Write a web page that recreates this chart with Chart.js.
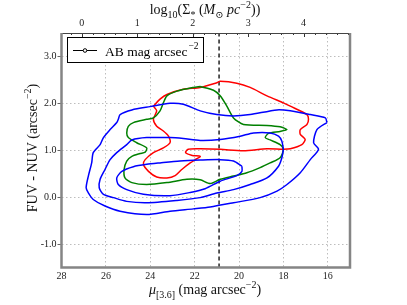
<!DOCTYPE html>
<html><head><meta charset="utf-8">
<script src="https://cdn.jsdelivr.net/npm/chart.js@4.4.0/dist/chart.umd.min.js"></script>
<style>html,body{margin:0;padding:0;background:#fff;overflow:hidden}#wrap{width:407px;height:305px}</style>
</head><body><div id="wrap"><canvas id="c" width="407" height="305"></canvas></div>
<script>
// ---- data ----
const muRange = [28, 15];            // surface brightness axis (reversed)
const colorRange = [-1.5, 3.5];      // FUV - NUV axis
const xTicks = [28, 26, 24, 22, 20, 18, 16];
const yTicks = [-1.0, 0.0, 1.0, 2.0, 3.0];
const topTicks = [0, 1, 2, 3, 4];
const muZero = 27.09;                // mu where log10(Sigma*) = 0
const magPerDex = 2.5;
const cutMu = 20.9;                  // vertical dashed threshold

const blueOuterMu = [16.04,16.11,16.79,17.69,18.29,19.50,20.25,21.00,21.75,22.51,23.11,24.01,24.83,25.36,25.44,25.51,25.81,26.11,26.26,26.57,26.64,26.79,26.89,26.79,26.57,26.04,25.36,24.16,23.11,22.06,21.30,20.25,19.05,18.29,17.84,17.24,16.79,16.42,16.64,16.49,16.04];
const blueOuterCol = [1.59,1.69,1.76,1.84,1.86,1.76,1.73,1.76,1.84,1.98,2.00,1.93,1.86,1.76,1.66,1.59,1.44,1.27,1.12,0.95,0.73,0.45,0.20,0.09,-0.05,-0.19,-0.30,-0.37,-0.30,-0.25,-0.21,-0.12,-0.01,0.13,0.27,0.52,0.80,1.02,1.16,1.44,1.59];

const blueMidMu = [18.00,18.07,18.22,18.60,19.35,19.95,20.85,21.75,22.51,23.11,24.16,24.83,25.06,25.51,25.81,26.04,26.26,26.30,26.11,25.66,25.06,24.16,22.80,21.75,21.00,20.25,19.50,18.74,18.22,18.07,18.00];
const blueMidCol = [1.02,1.19,1.30,1.37,1.37,1.30,1.23,1.21,1.25,1.27,1.27,1.22,1.12,0.95,0.80,0.59,0.38,0.20,0.06,-0.01,-0.09,-0.12,-0.07,-0.01,0.09,0.16,0.27,0.41,0.66,0.84,1.02];

const blueInMu = [19.87,20.25,20.85,21.75,22.66,23.56,24.16,24.76,25.28,25.51,25.44,25.06,24.31,23.11,22.20,21.53,20.85,20.10,19.87,19.87];
const blueInCol = [0.66,0.77,0.80,0.79,0.77,0.73,0.70,0.65,0.55,0.41,0.27,0.16,0.06,0.03,0.10,0.18,0.34,0.46,0.55,0.66];

const greenMu = [21.75,21.15,20.85,20.55,20.25,19.80,18.74,18.15,17.84,18.15,18.67,18.82,18.60,18.15,18.00,18.15,18.60,19.05,19.65,20.25,20.85,21.30,21.75,22.35,23.25,24.16,24.83,25.14,25.18,25.06,24.83,24.46,24.23,24.16,24.61,24.99,25.06,24.99,24.76,24.16,23.86,23.56,23.41,23.25,22.80,22.06,21.75];
const greenCol = [2.36,2.28,2.16,1.94,1.69,1.55,1.53,1.50,1.44,1.40,1.36,1.27,1.22,1.12,1.02,0.84,0.73,0.63,0.52,0.45,0.38,0.29,0.37,0.38,0.31,0.27,0.31,0.41,0.59,0.77,0.87,0.93,0.96,1.05,1.16,1.27,1.37,1.51,1.59,1.66,1.69,1.84,2.01,2.16,2.26,2.34,2.36];

const redMu = [23.86,23.56,23.25,22.51,21.75,21.00,20.85,20.10,19.50,18.74,18.00,17.69,16.94,16.87,16.94,17.24,17.24,17.02,17.17,17.69,18.00,18.74,19.80,20.85,21.75,22.29,22.41,22.11,21.75,21.90,22.20,22.58,22.88,23.25,23.71,24.08,24.31,24.23,23.86,23.41,23.11,23.18,23.41,23.71,23.86,23.71,23.86];
const redCol = [1.94,2.09,2.19,2.30,2.34,2.44,2.47,2.43,2.34,2.16,2.01,1.94,1.76,1.66,1.55,1.44,1.34,1.23,1.12,1.03,1.02,1.03,0.99,1.02,1.03,1.02,0.95,0.89,0.87,0.82,0.73,0.59,0.46,0.41,0.43,0.55,0.70,0.80,0.95,1.05,1.16,1.30,1.41,1.51,1.66,1.84,1.94];

const legendLabel = "AB mag arcsec";
// ---- end data ----

const SERIF = "'Liberation Serif','DejaVu Serif',serif";
const pts = (xs, ys) => xs.map((x, i) => ({x: x, y: ys[i]}));
function contour(xs, ys, color) {
  return {data: pts(xs, ys), borderColor: color, borderWidth: 1.5, showLine: true,
          pointRadius: 0, tension: 0.25, fill: false};
}

function fontFor(p, base) {
  const small = (p.k === 'sub' || p.k === 'sup');
  const size = small ? Math.round(base * 0.7) : base;
  return (p.i ? 'italic ' : '') + size + 'px ' + SERIF;
}
function drawRich(ctx, parts, cx, cy, base) {
  let w = 0;
  parts.forEach(p => { ctx.font = fontFor(p, base); w += ctx.measureText(p.t).width; });
  let x = cx - w / 2;
  ctx.textAlign = 'left'; ctx.textBaseline = 'alphabetic';
  parts.forEach(p => {
    ctx.font = fontFor(p, base);
    const off = p.k === 'sub' ? base * 0.3 : (p.k === 'sup' ? -base * 0.4 : 0);
    ctx.fillText(p.t, x, cy + off);
    x += ctx.measureText(p.t).width;
  });
}

const decor = {
  id: 'decor',
  afterDatasetsDraw(chart) {
    const ctx = chart.ctx, a = chart.chartArea;
    const sx2 = chart.scales.x2, sy = chart.scales.y;
    ctx.save();
    // top minor/major ticks (inward)
    ctx.strokeStyle = '#333'; ctx.lineWidth = 1;
    for (let k = -2; k <= 49; k++) {
      const v = k / 10;
      if (k % 2 !== 0) continue;
      const px = sx2.getPixelForValue(v);
      if (px < a.left + 1 || px > a.right - 1) continue;
      const len = (k % 10 === 0) ? 4 : 2;
      ctx.beginPath(); ctx.moveTo(Math.round(px) + 0.5, a.top); ctx.lineTo(Math.round(px) + 0.5, a.top + len); ctx.stroke();
    }
    // left outward ticks
    ctx.strokeStyle = '#666';
    yTicks.forEach(v => {
      const py = Math.round(sy.getPixelForValue(v)) + 0.5;
      ctx.beginPath(); ctx.moveTo(a.left - 4, py); ctx.lineTo(a.left, py); ctx.stroke();
    });
    // frame
    ctx.strokeStyle = '#444'; ctx.lineWidth = 1;
    ctx.beginPath(); ctx.moveTo(a.left, a.top + 0.5); ctx.lineTo(a.right, a.top + 0.5); ctx.stroke();
    ctx.strokeStyle = '#858585'; ctx.lineWidth = 2.5;
    ctx.beginPath();
    ctx.moveTo(a.left, a.top); ctx.lineTo(a.left, a.bottom); ctx.lineTo(a.right, a.bottom); ctx.lineTo(a.right, a.top);
    ctx.stroke();
    // legend
    ctx.strokeStyle = '#000'; ctx.lineWidth = 1; ctx.fillStyle = '#fff';
    ctx.fillRect(67.5, 37.5, 136, 25);
    ctx.strokeRect(67.5, 37.5, 136, 25);
    ctx.beginPath(); ctx.moveTo(73, 50.5); ctx.lineTo(97, 50.5); ctx.stroke();
    ctx.beginPath(); ctx.arc(85, 50.5, 1.8, 0, Math.PI * 2); ctx.fill(); ctx.stroke();
    ctx.fillStyle = '#000';
    ctx.font = '13.5px ' + SERIF; ctx.textAlign = 'left'; ctx.textBaseline = 'alphabetic';
    ctx.fillText(legendLabel, 105, 56);
    const lw = ctx.measureText(legendLabel).width;
    ctx.font = '9.5px ' + SERIF; ctx.fillText('\u22122', 105 + lw + 1, 49);
    // axis titles
    ctx.fillStyle = '#111';
    drawRich(ctx, [{t: '\u03bc', i: true}, {t: '[3.6]', k: 'sub'}, {t: ' (mag arcsec'}, {t: '\u22122', k: 'sup'}, {t: ')'}], 205, 294, 14);
    drawRich(ctx, [{t: 'log'}, {t: '10', k: 'sub'}, {t: '(\u03a3'}, {t: '*', k: 'sub'}, {t: ' ('}, {t: 'M', i: true}, {t: '\u2299', k: 'sub'}, {t: ' '}, {t: 'pc', i: true}, {t: '\u22122', k: 'sup'}, {t: '))'}], 205, 14, 14);
    ctx.save();
    ctx.translate(37, 148); ctx.rotate(-Math.PI / 2);
    drawRich(ctx, [{t: 'FUV - NUV (arcsec'}, {t: '\u22122', k: 'sup'}, {t: ')'}], 0, 0, 14);
    ctx.restore();
    ctx.restore();
  }
};

const tickFont = {family: SERIF, size: 10};
new Chart(document.getElementById('c'), {
  type: 'scatter',
  data: {datasets: [
    contour(blueOuterMu, blueOuterCol, '#0000ff'),
    contour(blueMidMu, blueMidCol, '#0000ff'),
    contour(blueInMu, blueInCol, '#0000ff'),
    contour(greenMu, greenCol, '#008000'),
    contour(redMu, redCol, '#ff0000'),
    {data: [{x: cutMu, y: colorRange[0]}, {x: cutMu, y: colorRange[1]}], borderColor: '#222', borderWidth: 1.5,
     borderDash: [4, 3], showLine: true, pointRadius: 0}
  ]},
  options: {
    responsive: false, animation: false, devicePixelRatio: 1,
    layout: {padding: {left: 0, right: 57, top: 0, bottom: 0}},
    plugins: {legend: {display: false}, tooltip: {enabled: false}},
    scales: {
      x: {type: 'linear', position: 'bottom', min: muRange[1], max: muRange[0], reverse: true,
          afterBuildTicks: s => { s.ticks = xTicks.map(v => ({value: v})); },
          afterFit: s => { s.height = 37.5; },
          ticks: {font: tickFont, color: '#222', padding: 3, maxRotation: 0, autoSkip: false},
          grid: {color: '#bdbdbd', lineWidth: 1, drawTicks: false},
          border: {display: false, dash: [1.5, 2.5]}},
      x2: {type: 'linear', position: 'top', min: (muZero - muRange[0]) / magPerDex, max: (muZero - muRange[1]) / magPerDex,
          afterBuildTicks: s => { s.ticks = topTicks.map(v => ({value: v})); },
          afterFit: s => { s.height = 33; },
          ticks: {font: tickFont, color: '#222', padding: 4, maxRotation: 0, autoSkip: false},
          grid: {drawOnChartArea: false, drawTicks: false}, border: {display: false}},
      y: {type: 'linear', min: colorRange[0], max: colorRange[1],
          afterBuildTicks: s => { s.ticks = yTicks.map(v => ({value: v})); },
          afterFit: s => { s.width = 61.5; },
          ticks: {font: tickFont, color: '#222', padding: 5, callback: v => v.toFixed(1)},
          grid: {color: '#bdbdbd', lineWidth: 1, drawTicks: false},
          border: {display: false, dash: [1.5, 2.5]}}
    }
  },
  plugins: [decor]
});
</script></body></html>
